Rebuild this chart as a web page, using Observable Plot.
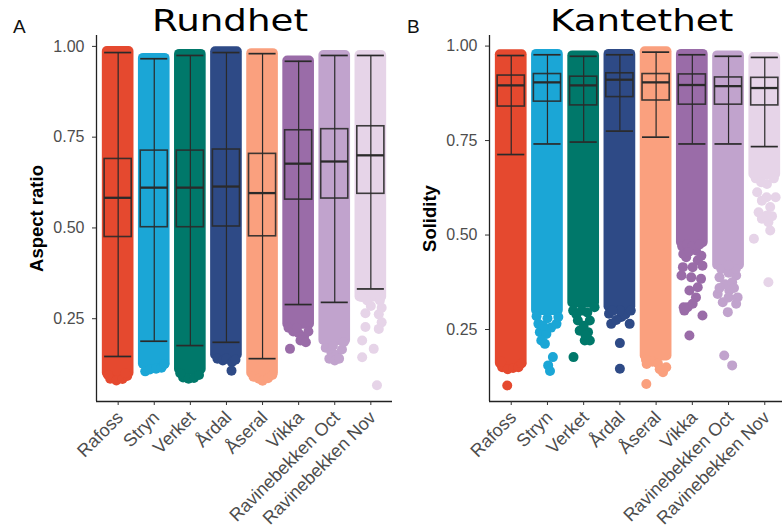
<!DOCTYPE html>
<html>
<head>
<meta charset="utf-8">
<script src="https://cdn.jsdelivr.net/npm/d3@7"></script>
<script src="https://cdn.jsdelivr.net/npm/@observablehq/plot@0.6"></script>
<style>
  html, body { margin: 0; padding: 0; background: #ffffff; }
  #wrap { position: relative; width: 782px; height: 532px; overflow: hidden; background: #fff; }
  .panel { position: absolute; top: 0; }
  .ttl { position: absolute; font-family: "DejaVu Sans", sans-serif; color: #000; white-space: nowrap; transform-origin: left top; }
  .tag { position: absolute; font-family: "Liberation Sans", Arial, sans-serif; color: #111; font-size: 19px; }
</style>
</head>
<body>
<div id="wrap">
  <div class="tag" style="left:13px; top:16px;">A</div>
  <div class="tag" style="left:407px; top:16px;">B</div>
  <div class="ttl" style="left:152px; top:3px; font-size:30px; transform:scaleX(1.24);">Rundhet</div>
  <div class="ttl" style="left:550px; top:3px; font-size:30px; transform:scaleX(1.24);">Kantethet</div>
</div>
<script>
// ---------- data ----------
const categories = ["Rafoss", "Stryn", "Verket", "Årdal", "Åseral", "Vikka", "Ravinebekken Oct", "Ravinebekken Nov"];
const colors = ["#E5492F", "#1BA6D6", "#00786A", "#2E4A86", "#FAA07E", "#9A6CA8", "#C1A3CD", "#E6D4E8"];

// Panel A: Aspect ratio (Rundhet)
const arLow    = [0.146, 0.188, 0.176, 0.185, 0.140, 0.289, 0.295, 0.332];
const arQ1     = [0.475, 0.502, 0.502, 0.504, 0.477, 0.578, 0.581, 0.594];
const arMedian = [0.583, 0.611, 0.611, 0.614, 0.596, 0.677, 0.683, 0.700];
const arQ3     = [0.690, 0.713, 0.713, 0.716, 0.704, 0.769, 0.772, 0.780];
const arHigh   = [0.983, 0.966, 0.975, 0.983, 0.980, 0.959, 0.975, 0.975];
const arDenseLow  = [0.100, 0.125, 0.110, 0.150, 0.100, 0.235, 0.190, 0.310];
const arDenseHigh = [0.986, 0.967, 0.978, 0.985, 0.980, 0.960, 0.975, 0.975];
const arTail = [
  [[-0.22,0.085],[-0.05,0.080],[0.12,0.084],[0.25,0.092],[-0.28,0.095],[0.2,0.10]],
  [[-0.25,0.105],[-0.12,0.110],[0.05,0.112],[0.2,0.115],[0.28,0.125]],
  [[-0.2,0.088],[-0.05,0.085],[0.1,0.087],[0.24,0.095],[-0.28,0.10]],
  [[-0.25,0.14],[-0.1,0.135],[0.0,0.14],[0.15,0.13],[0.25,0.137],[0.14,0.107]],
  [[-0.25,0.09],[-0.1,0.085],[0.0,0.079],[0.15,0.086],[0.27,0.095]],
  [[-0.28,0.225],[-0.15,0.215],[0.0,0.21],[0.15,0.20],[0.27,0.215],[0.05,0.19],[0.2,0.185],[-0.05,0.225],[-0.24,0.167]],
  [[-0.25,0.17],[-0.1,0.16],[0.05,0.15],[0.2,0.165],[-0.15,0.14],[0.0,0.135],[0.12,0.14],[-0.05,0.175],[0.25,0.185]],
  [[-0.1,0.30],[0.25,0.30],[-0.15,0.265],[0.22,0.262],[0.3,0.24],[-0.15,0.227],[0.22,0.222],[-0.24,0.19],[0.08,0.167],[-0.24,0.144],[0.17,0.067],[0.0,0.285],[-0.25,0.31],[0.3,0.28]]
];

// Panel B: Solidity (Kantethet)
const soLow    = [0.713, 0.741, 0.746, 0.775, 0.759, 0.741, 0.741, 0.734];
const soQ1     = [0.840, 0.853, 0.843, 0.865, 0.856, 0.845, 0.845, 0.843];
const soMedian = [0.896, 0.904, 0.896, 0.911, 0.904, 0.897, 0.894, 0.889];
const soQ3     = [0.922, 0.926, 0.919, 0.928, 0.926, 0.925, 0.917, 0.916];
const soHigh   = [0.975, 0.977, 0.973, 0.977, 0.984, 0.977, 0.973, 0.970];
const soDenseLow  = [0.160, 0.300, 0.320, 0.310, 0.180, 0.480, 0.420, 0.660];
const soDenseHigh = [0.977, 0.978, 0.974, 0.978, 0.985, 0.978, 0.974, 0.970];
const soTail = [
  [[-0.25,0.15],[-0.1,0.145],[0.05,0.148],[0.2,0.15],[0.28,0.16],[-0.28,0.165],[-0.11,0.102]],
  [[-0.3,0.285],[-0.25,0.265],[-0.21,0.243],[-0.03,0.238],[0.1,0.255],[0.25,0.265],[0.3,0.283],[-0.17,0.221],[-0.07,0.212],[0.15,0.177],[0.02,0.155],[0.07,0.14],[0.0,0.28],[-0.12,0.26]],
  [[-0.29,0.30],[0.3,0.309],[-0.16,0.274],[0.17,0.274],[-0.11,0.247],[0.12,0.243],[0.03,0.221],[0.17,0.221],[-0.28,0.177],[-0.05,0.30],[0.1,0.295],[-0.2,0.29],[0.0,0.26],[0.05,0.235]],
  [[-0.3,0.292],[-0.24,0.265],[0.04,0.283],[0.27,0.265],[-0.1,0.275],[0.15,0.29],[0.3,0.30],[0.0,0.30],[-0.2,0.30],[0.0,0.214],[0.0,0.146]],
  [[-0.26,0.159],[0.19,0.137],[-0.1,0.165],[0.05,0.16],[0.28,0.15],[-0.28,0.17],[0.1,0.145],[-0.27,0.106]],
  [[0.1,0.459],[-0.17,0.441],[0.15,0.433],[-0.26,0.415],[0.01,0.415],[0.28,0.419],[-0.3,0.393],[-0.03,0.388],[0.24,0.384],[0.15,0.362],[-0.08,0.353],[0.1,0.335],[-0.13,0.309],[0.01,0.318],[-0.22,0.30],[0.28,0.287],[-0.08,0.234],[-0.28,0.47],[-0.15,0.475],[0.0,0.47],[0.2,0.475],[-0.25,0.45],[0.25,0.445],[-0.1,0.455],[-0.24,0.309]],
  [[-0.25,0.388],[0.21,0.393],[-0.3,0.344],[0.02,0.353],[0.25,0.335],[-0.16,0.322],[0.21,0.318],[-0.02,0.296],[-0.12,0.181],[0.1,0.155],[-0.2,0.41],[0.0,0.40],[0.2,0.41],[-0.1,0.37],[0.1,0.375],[0.0,0.42],[-0.25,0.36],[0.15,0.36],[0.0,0.335]],
  [[0.06,0.635],[-0.21,0.613],[-0.08,0.591],[0.15,0.574],[-0.17,0.56],[0.06,0.552],[-0.08,0.543],[0.1,0.534],[0.15,0.512],[-0.3,0.49],[0.1,0.375],[0.25,0.65],[-0.25,0.65],[0.3,0.60],[0.2,0.55],[-0.1,0.64],[0.05,0.60]]
];

const yTicks = [0.25, 0.50, 0.75, 1.00];

// ---------- drawing ----------
function makePanel({low, q1, median, q3, high, denseLow, denseHigh, tail, yDomain, yLabel, width, marginLeft}) {
  const stats = categories.map((c, i) => ({i, c, color: colors[i], lo: low[i], q1: q1[i], med: median[i], q3: q3[i], hi: high[i], dlo: denseLow[i], dhi: denseHigh[i]}));
  const dots = tail.flatMap((pts, i) => pts.map(([off, v]) => ({i, off, v, color: colors[i]})));
  const bw = 0.375, jw = 0.30, r = 5;
  const line = "#2a2a2a";
  const xt = d3.range(categories.length);
  return Plot.plot({
    width, height: 532,
    marginLeft, marginRight: 0, marginTop: 35, marginBottom: 131,
    style: {fontFamily: "Liberation Sans, Arial, sans-serif", fontSize: "16px", color: "#4d4d4d", background: "transparent", overflow: "visible"},
    x: {domain: [-0.6, 7.6], axis: null},
    y: {domain: yDomain, axis: null},
    color: {type: "identity"},
    marks: [
      Plot.rect(stats, {x1: d => d.i - jw, x2: d => d.i + jw, y1: "dlo", y2: "dhi", fill: "color", inset: -r, rx: r, ry: r}),
      Plot.dot(dots, {x: d => d.i + d.off, y: "v", r, fill: "color", stroke: "none"}),
      Plot.ruleX(stats, {x: "i", y1: "lo", y2: "hi", stroke: line, strokeWidth: 1.2}),
      Plot.ruleY(stats, {y: "lo", x1: d => d.i - bw, x2: d => d.i + bw, stroke: line, strokeWidth: 1.7}),
      Plot.ruleY(stats, {y: "hi", x1: d => d.i - bw, x2: d => d.i + bw, stroke: line, strokeWidth: 1.7}),
      Plot.rect(stats, {x1: d => d.i - bw, x2: d => d.i + bw, y1: "q1", y2: "q3", fill: "none", stroke: line, strokeWidth: 1.6, strokeOpacity: 0.9}),
      Plot.ruleY(stats, {y: "med", x1: d => d.i - bw, x2: d => d.i + bw, stroke: line, strokeWidth: 2.3}),
      Plot.ruleX([-0.6], {stroke: "#222", strokeWidth: 1.3}),
      Plot.ruleY([yDomain[0]], {stroke: "#222", strokeWidth: 1.3}),
      Plot.axisY({ticks: yTicks, tickFormat: d3.format(".2f"), tickSize: 4, tickPadding: 8, label: null, stroke: "#333", fontSize: 16}),
      Plot.axisX({ticks: xt, tickFormat: () => "", tickSize: 4, label: null, stroke: "#333"}),
      Plot.axisX({ticks: xt, tickFormat: i => categories[i], tickRotate: -45, tickSize: 0, tickPadding: 13, dx: 2, label: null, fontSize: 18}),
      Plot.text([yLabel], {text: d => d, frameAnchor: "left", dx: -59, rotate: -90, textAnchor: "middle", lineAnchor: "middle", fontWeight: "bold", fontSize: 18.5, fill: "#000"})
    ]
  });
}

const wrap = document.getElementById("wrap");
const a = makePanel({low: arLow, q1: arQ1, median: arMedian, q3: arQ3, high: arHigh, denseLow: arDenseLow, denseHigh: arDenseHigh, tail: arTail,
  yDomain: [0.022, 1.030], yLabel: "Aspect ratio", width: 392, marginLeft: 96});
a.classList.add("panel"); a.style.left = "0px";
const b = makePanel({low: soLow, q1: soQ1, median: soMedian, q3: soQ3, high: soHigh, denseLow: soDenseLow, denseHigh: soDenseHigh, tail: soTail,
  yDomain: [0.0595, 1.028], yLabel: "Solidity", width: 394, marginLeft: 97});
b.classList.add("panel"); b.style.left = "392px";
wrap.insertBefore(b, wrap.firstChild);
wrap.insertBefore(a, wrap.firstChild);
</script>
</body>
</html>
